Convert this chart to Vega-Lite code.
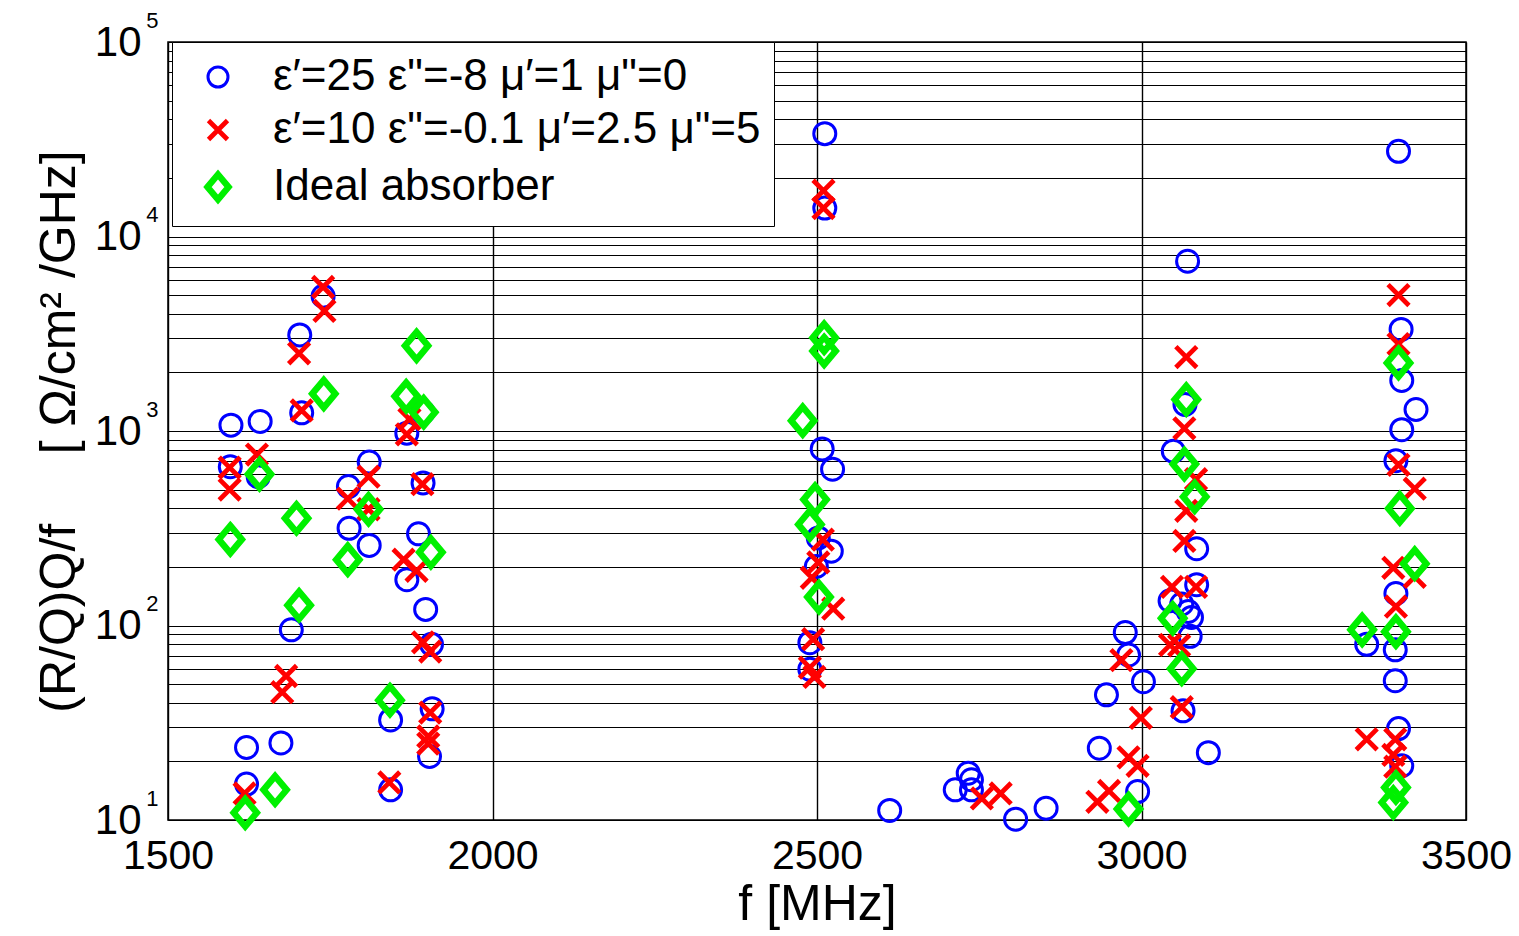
{
  "$schema": "https://vega.github.io/schema/vega-lite/v6.json",
  "width": 1298,
  "height": 778,
  "autosize": {"type": "none"},
  "padding": {"left": 168, "top": 42, "right": 53, "bottom": 116},
  "background": "white",
  "config": {
    "font": "Liberation Sans",
    "view": {"stroke": "#000", "strokeWidth": 1.5},
    "axis": {
      "domain": false,
      "ticks": false,
      "gridColor": "#000",
      "gridOpacity": 1,
      "gridWidth": 1.2,
      "labelColor": "#000",
      "titleColor": "#000",
      "labelFont": "Liberation Sans",
      "titleFont": "Liberation Sans",
      "titleFontWeight": "normal"
    }
  },
  "data": {
    "values": [
      {"s": "ε′=25 ε\"=-8 μ′=1 μ\"=0", "f": 1739, "v": 4930},
      {"s": "ε′=25 ε\"=-8 μ′=1 μ\"=0", "f": 1703, "v": 3120},
      {"s": "ε′=25 ε\"=-8 μ′=1 μ\"=0", "f": 1706, "v": 1240},
      {"s": "ε′=25 ε\"=-8 μ′=1 μ\"=0", "f": 1597, "v": 1072},
      {"s": "ε′=25 ε\"=-8 μ′=1 μ\"=0", "f": 1642, "v": 1120},
      {"s": "ε′=25 ε\"=-8 μ′=1 μ\"=0", "f": 1893, "v": 1250},
      {"s": "ε′=25 ε\"=-8 μ′=1 μ\"=0", "f": 1868, "v": 975},
      {"s": "ε′=25 ε\"=-8 μ′=1 μ\"=0", "f": 1596, "v": 655},
      {"s": "ε′=25 ε\"=-8 μ′=1 μ\"=0", "f": 1639, "v": 582},
      {"s": "ε′=25 ε\"=-8 μ′=1 μ\"=0", "f": 1810, "v": 693},
      {"s": "ε′=25 ε\"=-8 μ′=1 μ\"=0", "f": 1778, "v": 518},
      {"s": "ε′=25 ε\"=-8 μ′=1 μ\"=0", "f": 1893, "v": 541},
      {"s": "ε′=25 ε\"=-8 μ′=1 μ\"=0", "f": 1779, "v": 316},
      {"s": "ε′=25 ε\"=-8 μ′=1 μ\"=0", "f": 1810, "v": 258},
      {"s": "ε′=25 ε\"=-8 μ′=1 μ\"=0", "f": 1886, "v": 296},
      {"s": "ε′=25 ε\"=-8 μ′=1 μ\"=0", "f": 1868, "v": 172},
      {"s": "ε′=25 ε\"=-8 μ′=1 μ\"=0", "f": 1897, "v": 121},
      {"s": "ε′=25 ε\"=-8 μ′=1 μ\"=0", "f": 1906, "v": 80},
      {"s": "ε′=25 ε\"=-8 μ′=1 μ\"=0", "f": 1690, "v": 95},
      {"s": "ε′=25 ε\"=-8 μ′=1 μ\"=0", "f": 1621, "v": 23.6},
      {"s": "ε′=25 ε\"=-8 μ′=1 μ\"=0", "f": 1674, "v": 24.9},
      {"s": "ε′=25 ε\"=-8 μ′=1 μ\"=0", "f": 1843, "v": 32.7},
      {"s": "ε′=25 ε\"=-8 μ′=1 μ\"=0", "f": 1907, "v": 37.3},
      {"s": "ε′=25 ε\"=-8 μ′=1 μ\"=0", "f": 1903, "v": 21.2},
      {"s": "ε′=25 ε\"=-8 μ′=1 μ\"=0", "f": 1621, "v": 15.3},
      {"s": "ε′=25 ε\"=-8 μ′=1 μ\"=0", "f": 1843, "v": 14.3},
      {"s": "ε′=25 ε\"=-8 μ′=1 μ\"=0", "f": 2512, "v": 33800},
      {"s": "ε′=25 ε\"=-8 μ′=1 μ\"=0", "f": 2512, "v": 14000},
      {"s": "ε′=25 ε\"=-8 μ′=1 μ\"=0", "f": 2508, "v": 809},
      {"s": "ε′=25 ε\"=-8 μ′=1 μ\"=0", "f": 2524, "v": 636},
      {"s": "ε′=25 ε\"=-8 μ′=1 μ\"=0", "f": 2502, "v": 282},
      {"s": "ε′=25 ε\"=-8 μ′=1 μ\"=0", "f": 2522, "v": 241},
      {"s": "ε′=25 ε\"=-8 μ′=1 μ\"=0", "f": 2499, "v": 201},
      {"s": "ε′=25 ε\"=-8 μ′=1 μ\"=0", "f": 2489, "v": 81.6},
      {"s": "ε′=25 ε\"=-8 μ′=1 μ\"=0", "f": 2489, "v": 59.6},
      {"s": "ε′=25 ε\"=-8 μ′=1 μ\"=0", "f": 2612, "v": 11.2},
      {"s": "ε′=25 ε\"=-8 μ′=1 μ\"=0", "f": 2713, "v": 14.3},
      {"s": "ε′=25 ε\"=-8 μ′=1 μ\"=0", "f": 2733, "v": 17.4},
      {"s": "ε′=25 ε\"=-8 μ′=1 μ\"=0", "f": 2738, "v": 16.1},
      {"s": "ε′=25 ε\"=-8 μ′=1 μ\"=0", "f": 2738, "v": 14.3},
      {"s": "ε′=25 ε\"=-8 μ′=1 μ\"=0", "f": 2806, "v": 10.1},
      {"s": "ε′=25 ε\"=-8 μ′=1 μ\"=0", "f": 2853, "v": 11.5},
      {"s": "ε′=25 ε\"=-8 μ′=1 μ\"=0", "f": 2935, "v": 23.4},
      {"s": "ε′=25 ε\"=-8 μ′=1 μ\"=0", "f": 2994, "v": 14},
      {"s": "ε′=25 ε\"=-8 μ′=1 μ\"=0", "f": 3071, "v": 7460},
      {"s": "ε′=25 ε\"=-8 μ′=1 μ\"=0", "f": 3067, "v": 1370},
      {"s": "ε′=25 ε\"=-8 μ′=1 μ\"=0", "f": 3049, "v": 788},
      {"s": "ε′=25 ε\"=-8 μ′=1 μ\"=0", "f": 3085, "v": 248},
      {"s": "ε′=25 ε\"=-8 μ′=1 μ\"=0", "f": 3085, "v": 162},
      {"s": "ε′=25 ε\"=-8 μ′=1 μ\"=0", "f": 3044, "v": 134},
      {"s": "ε′=25 ε\"=-8 μ′=1 μ\"=0", "f": 3062, "v": 129},
      {"s": "ε′=25 ε\"=-8 μ′=1 μ\"=0", "f": 3072, "v": 118},
      {"s": "ε′=25 ε\"=-8 μ′=1 μ\"=0", "f": 3077, "v": 110},
      {"s": "ε′=25 ε\"=-8 μ′=1 μ\"=0", "f": 3075, "v": 88},
      {"s": "ε′=25 ε\"=-8 μ′=1 μ\"=0", "f": 2975, "v": 92},
      {"s": "ε′=25 ε\"=-8 μ′=1 μ\"=0", "f": 2980, "v": 70.5},
      {"s": "ε′=25 ε\"=-8 μ′=1 μ\"=0", "f": 3003, "v": 51.4},
      {"s": "ε′=25 ε\"=-8 μ′=1 μ\"=0", "f": 2946, "v": 44},
      {"s": "ε′=25 ε\"=-8 μ′=1 μ\"=0", "f": 3064, "v": 36.4},
      {"s": "ε′=25 ε\"=-8 μ′=1 μ\"=0", "f": 3103, "v": 22.2},
      {"s": "ε′=25 ε\"=-8 μ′=1 μ\"=0", "f": 3396, "v": 27400},
      {"s": "ε′=25 ε\"=-8 μ′=1 μ\"=0", "f": 3400, "v": 3330},
      {"s": "ε′=25 ε\"=-8 μ′=1 μ\"=0", "f": 3401, "v": 1820},
      {"s": "ε′=25 ε\"=-8 μ′=1 μ\"=0", "f": 3423, "v": 1290},
      {"s": "ε′=25 ε\"=-8 μ′=1 μ\"=0", "f": 3401, "v": 1016},
      {"s": "ε′=25 ε\"=-8 μ′=1 μ\"=0", "f": 3392, "v": 703},
      {"s": "ε′=25 ε\"=-8 μ′=1 μ\"=0", "f": 3392, "v": 146},
      {"s": "ε′=25 ε\"=-8 μ′=1 μ\"=0", "f": 3347, "v": 80},
      {"s": "ε′=25 ε\"=-8 μ′=1 μ\"=0", "f": 3391, "v": 75},
      {"s": "ε′=25 ε\"=-8 μ′=1 μ\"=0", "f": 3391, "v": 52},
      {"s": "ε′=25 ε\"=-8 μ′=1 μ\"=0", "f": 3396, "v": 29.5},
      {"s": "ε′=25 ε\"=-8 μ′=1 μ\"=0", "f": 3401, "v": 19},
      {"s": "ε′=10 ε\"=-0.1 μ′=2.5 μ\"=5", "f": 1739, "v": 5500},
      {"s": "ε′=10 ε\"=-0.1 μ′=2.5 μ\"=5", "f": 1741, "v": 4140},
      {"s": "ε′=10 ε\"=-0.1 μ′=2.5 μ\"=5", "f": 1702, "v": 2510},
      {"s": "ε′=10 ε\"=-0.1 μ′=2.5 μ\"=5", "f": 1706, "v": 1276},
      {"s": "ε′=10 ε\"=-0.1 μ′=2.5 μ\"=5", "f": 1868, "v": 962},
      {"s": "ε′=10 ε\"=-0.1 μ′=2.5 μ\"=5", "f": 1872, "v": 1150},
      {"s": "ε′=10 ε\"=-0.1 μ′=2.5 μ\"=5", "f": 1637, "v": 757},
      {"s": "ε′=10 ε\"=-0.1 μ′=2.5 μ\"=5", "f": 1595, "v": 649},
      {"s": "ε′=10 ε\"=-0.1 μ′=2.5 μ\"=5", "f": 1595, "v": 500},
      {"s": "ε′=10 ε\"=-0.1 μ′=2.5 μ\"=5", "f": 1809, "v": 582},
      {"s": "ε′=10 ε\"=-0.1 μ′=2.5 μ\"=5", "f": 1777, "v": 449},
      {"s": "ε′=10 ε\"=-0.1 μ′=2.5 μ\"=5", "f": 1809, "v": 396},
      {"s": "ε′=10 ε\"=-0.1 μ′=2.5 μ\"=5", "f": 1892, "v": 533},
      {"s": "ε′=10 ε\"=-0.1 μ′=2.5 μ\"=5", "f": 1863, "v": 218},
      {"s": "ε′=10 ε\"=-0.1 μ′=2.5 μ\"=5", "f": 1883, "v": 191},
      {"s": "ε′=10 ε\"=-0.1 μ′=2.5 μ\"=5", "f": 1893, "v": 82},
      {"s": "ε′=10 ε\"=-0.1 μ′=2.5 μ\"=5", "f": 1904, "v": 73.5},
      {"s": "ε′=10 ε\"=-0.1 μ′=2.5 μ\"=5", "f": 1682, "v": 55},
      {"s": "ε′=10 ε\"=-0.1 μ′=2.5 μ\"=5", "f": 1676, "v": 45.4},
      {"s": "ε′=10 ε\"=-0.1 μ′=2.5 μ\"=5", "f": 1904, "v": 35.7},
      {"s": "ε′=10 ε\"=-0.1 μ′=2.5 μ\"=5", "f": 1901, "v": 26.9},
      {"s": "ε′=10 ε\"=-0.1 μ′=2.5 μ\"=5", "f": 1901, "v": 24.7},
      {"s": "ε′=10 ε\"=-0.1 μ′=2.5 μ\"=5", "f": 1841, "v": 15.6},
      {"s": "ε′=10 ε\"=-0.1 μ′=2.5 μ\"=5", "f": 1618, "v": 13.7},
      {"s": "ε′=10 ε\"=-0.1 μ′=2.5 μ\"=5", "f": 2510, "v": 17200},
      {"s": "ε′=10 ε\"=-0.1 μ′=2.5 μ\"=5", "f": 2510, "v": 14000},
      {"s": "ε′=10 ε\"=-0.1 μ′=2.5 μ\"=5", "f": 2509, "v": 276},
      {"s": "ε′=10 ε\"=-0.1 μ′=2.5 μ\"=5", "f": 2502, "v": 211},
      {"s": "ε′=10 ε\"=-0.1 μ′=2.5 μ\"=5", "f": 2492, "v": 176},
      {"s": "ε′=10 ε\"=-0.1 μ′=2.5 μ\"=5", "f": 2525, "v": 122},
      {"s": "ε′=10 ε\"=-0.1 μ′=2.5 μ\"=5", "f": 2494, "v": 85},
      {"s": "ε′=10 ε\"=-0.1 μ′=2.5 μ\"=5", "f": 2489, "v": 60.8},
      {"s": "ε′=10 ε\"=-0.1 μ′=2.5 μ\"=5", "f": 2496, "v": 54.4},
      {"s": "ε′=10 ε\"=-0.1 μ′=2.5 μ\"=5", "f": 2754, "v": 12.9},
      {"s": "ε′=10 ε\"=-0.1 μ′=2.5 μ\"=5", "f": 2783, "v": 13.7},
      {"s": "ε′=10 ε\"=-0.1 μ′=2.5 μ\"=5", "f": 2932, "v": 12.4},
      {"s": "ε′=10 ε\"=-0.1 μ′=2.5 μ\"=5", "f": 2950, "v": 14.1},
      {"s": "ε′=10 ε\"=-0.1 μ′=2.5 μ\"=5", "f": 2980, "v": 21},
      {"s": "ε′=10 ε\"=-0.1 μ′=2.5 μ\"=5", "f": 2994, "v": 19},
      {"s": "ε′=10 ε\"=-0.1 μ′=2.5 μ\"=5", "f": 3069, "v": 2400},
      {"s": "ε′=10 ε\"=-0.1 μ′=2.5 μ\"=5", "f": 3066, "v": 1032},
      {"s": "ε′=10 ε\"=-0.1 μ′=2.5 μ\"=5", "f": 3084, "v": 565},
      {"s": "ε′=10 ε\"=-0.1 μ′=2.5 μ\"=5", "f": 3069, "v": 389},
      {"s": "ε′=10 ε\"=-0.1 μ′=2.5 μ\"=5", "f": 3066, "v": 272},
      {"s": "ε′=10 ε\"=-0.1 μ′=2.5 μ\"=5", "f": 3047, "v": 158},
      {"s": "ε′=10 ε\"=-0.1 μ′=2.5 μ\"=5", "f": 3084, "v": 158},
      {"s": "ε′=10 ε\"=-0.1 μ′=2.5 μ\"=5", "f": 3044, "v": 79.4},
      {"s": "ε′=10 ε\"=-0.1 μ′=2.5 μ\"=5", "f": 3058, "v": 79},
      {"s": "ε′=10 ε\"=-0.1 μ′=2.5 μ\"=5", "f": 2969, "v": 66.4},
      {"s": "ε′=10 ε\"=-0.1 μ′=2.5 μ\"=5", "f": 3062, "v": 38},
      {"s": "ε′=10 ε\"=-0.1 μ′=2.5 μ\"=5", "f": 2999, "v": 33.5},
      {"s": "ε′=10 ε\"=-0.1 μ′=2.5 μ\"=5", "f": 3396, "v": 5000},
      {"s": "ε′=10 ε\"=-0.1 μ′=2.5 μ\"=5", "f": 3396, "v": 2800},
      {"s": "ε′=10 ε\"=-0.1 μ′=2.5 μ\"=5", "f": 3396, "v": 670},
      {"s": "ε′=10 ε\"=-0.1 μ′=2.5 μ\"=5", "f": 3421, "v": 505},
      {"s": "ε′=10 ε\"=-0.1 μ′=2.5 μ\"=5", "f": 3388, "v": 198},
      {"s": "ε′=10 ε\"=-0.1 μ′=2.5 μ\"=5", "f": 3421, "v": 178},
      {"s": "ε′=10 ε\"=-0.1 μ′=2.5 μ\"=5", "f": 3392, "v": 125},
      {"s": "ε′=10 ε\"=-0.1 μ′=2.5 μ\"=5", "f": 3347, "v": 26},
      {"s": "ε′=10 ε\"=-0.1 μ′=2.5 μ\"=5", "f": 3391, "v": 26},
      {"s": "ε′=10 ε\"=-0.1 μ′=2.5 μ\"=5", "f": 3388, "v": 21.6},
      {"s": "ε′=10 ε\"=-0.1 μ′=2.5 μ\"=5", "f": 3391, "v": 18.8},
      {"s": "Ideal absorber", "f": 1883, "v": 2740},
      {"s": "Ideal absorber", "f": 1740, "v": 1552},
      {"s": "Ideal absorber", "f": 1867, "v": 1507},
      {"s": "Ideal absorber", "f": 1894, "v": 1250},
      {"s": "Ideal absorber", "f": 1641, "v": 600},
      {"s": "Ideal absorber", "f": 1809, "v": 396},
      {"s": "Ideal absorber", "f": 1698, "v": 356},
      {"s": "Ideal absorber", "f": 1596, "v": 277},
      {"s": "Ideal absorber", "f": 1777, "v": 218},
      {"s": "Ideal absorber", "f": 1905, "v": 238},
      {"s": "Ideal absorber", "f": 1702, "v": 127},
      {"s": "Ideal absorber", "f": 1842, "v": 41.3},
      {"s": "Ideal absorber", "f": 1665, "v": 14.3},
      {"s": "Ideal absorber", "f": 1619, "v": 10.9},
      {"s": "Ideal absorber", "f": 2511, "v": 3020},
      {"s": "Ideal absorber", "f": 2511, "v": 2580},
      {"s": "Ideal absorber", "f": 2478, "v": 1130},
      {"s": "Ideal absorber", "f": 2497, "v": 444},
      {"s": "Ideal absorber", "f": 2489, "v": 331},
      {"s": "Ideal absorber", "f": 2503, "v": 140},
      {"s": "Ideal absorber", "f": 2980, "v": 11.4},
      {"s": "Ideal absorber", "f": 3069, "v": 1452},
      {"s": "Ideal absorber", "f": 3066, "v": 676},
      {"s": "Ideal absorber", "f": 3082, "v": 459},
      {"s": "Ideal absorber", "f": 3048, "v": 109},
      {"s": "Ideal absorber", "f": 3062, "v": 60},
      {"s": "Ideal absorber", "f": 3396, "v": 2240},
      {"s": "Ideal absorber", "f": 3398, "v": 400},
      {"s": "Ideal absorber", "f": 3421, "v": 208},
      {"s": "Ideal absorber", "f": 3340, "v": 95},
      {"s": "Ideal absorber", "f": 3392, "v": 93},
      {"s": "Ideal absorber", "f": 3392, "v": 14.7},
      {"s": "Ideal absorber", "f": 3388, "v": 12.3}
    ]
  },
  "layer": [
    {
      "mark": {"type": "point", "filled": false, "size": 484, "opacity": 1},
      "encoding": {
        "x": {
          "field": "f",
          "type": "quantitative",
          "scale": {"domain": [1500, 3500], "nice": false, "zero": false},
          "axis": {
            "values": [1500, 2000, 2500, 3000, 3500],
            "format": "d",
            "grid": true,
            "gridWidth": 1.4,
            "labelFontSize": 41,
            "labelPadding": 16,
            "labelFlush": false,
            "labelOverlap": false,
            "title": "f [MHz]",
            "titleFontSize": 50,
            "titlePadding": 3
          }
        },
        "y": {
          "field": "v",
          "type": "quantitative",
          "scale": {"type": "log", "domain": [10, 100000], "nice": false},
          "axis": {
            "values": [10, 20, 30, 40, 50, 60, 70, 80, 90, 100, 200, 300, 400, 500, 600, 700, 800, 900, 1000, 2000, 3000, 4000, 5000, 6000, 7000, 8000, 9000, 10000, 20000, 30000, 40000, 50000, 60000, 70000, 80000, 90000, 100000],
            "grid": true,
            "labelExpr": "indexof([10,100,1000,10000,100000], datum.value) >= 0 ? '10' : ''",
            "labelFontSize": 42,
            "labelPadding": 27,
            "labelOverlap": false,
            "labelBound": false,
            "title": "(R/Q)Q/f\u00a0\u00a0\u00a0\u00a0\u00a0[\u00a0Ω/cm²\u00a0/GHz]",
            "titleFontSize": 50,
            "titlePadding": 10
          }
        },
        "color": {
          "field": "s",
          "type": "nominal",
          "scale": {
            "domain": ["ε′=25 ε\"=-8 μ′=1 μ\"=0", "ε′=10 ε\"=-0.1 μ′=2.5 μ\"=5", "Ideal absorber"],
            "range": ["#0000ff", "#ff0000", "#00f000"]
          },
          "legend": {
            "title": null,
            "orient": "none",
            "legendX": 4,
            "legendY": 0,
            "fillColor": "white",
            "strokeColor": "#000",
            "padding": 13,
            "labelFontSize": 44,
            "labelFont": "Liberation Sans",
            "labelColor": "#000",
            "labelLimit": 2000,
            "symbolSize": 400,
            "symbolStrokeWidth": 3.5,
            "symbolType": "circle",
            "rowPadding": 9,
            "labelOffset": 33,
            "symbolOffset": 11
          }
        },
        "shape": {
          "field": "s",
          "type": "nominal",
          "scale": {
            "domain": ["ε′=25 ε\"=-8 μ′=1 μ\"=0", "ε′=10 ε\"=-0.1 μ′=2.5 μ\"=5", "Ideal absorber"],
            "range": ["circle", "M-0.95,-0.95L0.95,0.95M-0.95,0.95L0.95,-0.95", "M0,-1.25L1.05,0L0,1.25L-1.05,0Z"]
          }
        },
        "strokeWidth": {
          "field": "s",
          "type": "nominal",
          "scale": {
            "domain": ["ε′=25 ε\"=-8 μ′=1 μ\"=0", "ε′=10 ε\"=-0.1 μ′=2.5 μ\"=5", "Ideal absorber"],
            "range": [3, 6.5]
          },
          "legend": null
        }
      }
    },
    {
      "mark": {"type": "point", "opacity": 0},
      "encoding": {
        "y": {
          "field": "v",
          "type": "quantitative",
          "axis": {
            "orient": "left",
            "values": [10, 100, 1000, 10000, 100000],
            "grid": false,
            "labelExpr": "'' + round(log(datum.value) / LN10)",
            "labelFontSize": 22,
            "labelPadding": 10,
            "labelOffset": -22,
            "labelOverlap": false,
            "labelBound": false,
            "title": null
          }
        }
      }
    }
  ],
  "resolve": {"axis": {"y": "independent"}}
}
